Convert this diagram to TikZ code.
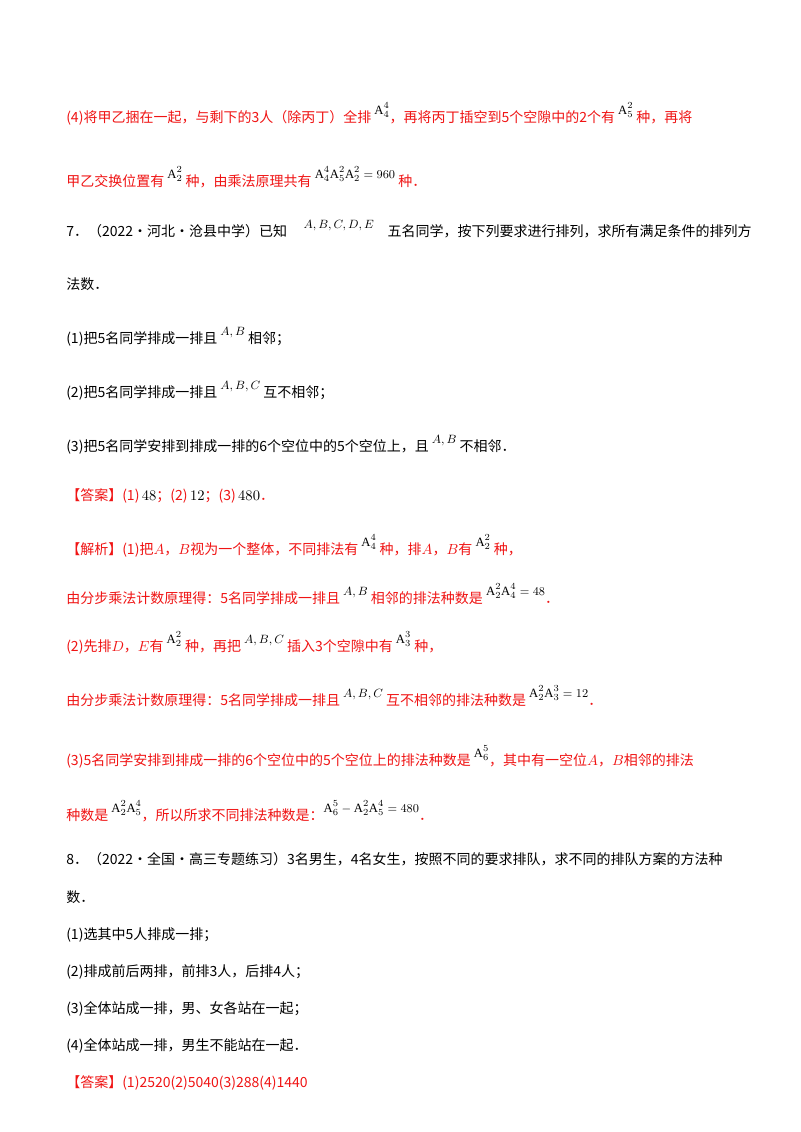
\documentclass[tikz,border=0pt]{standalone}
\usepackage{fontspec}
\setmainfont{Noto Sans CJK SC}
\setmathrm{Liberation Serif}
\usepackage{xcolor}
\definecolor{ansred}{RGB}{240,20,20}
\newcommand{\mth}[1]{\raisebox{6pt}{\color{black}\fontsize{9.5pt}{11pt}\selectfont$#1$}}
\newcommand{\Aa}[2]{\mathrm{A}_{#1}^{#2}}
\begin{document}
\begin{tikzpicture}[x=0.75pt,y=-0.75pt,
  ln/.style={anchor=base west,inner sep=0pt,font=\fontsize{10.5pt}{12pt}\selectfont},
  rd/.style={ln,text=ansred}]
\useasboundingbox (0,0) rectangle (800,1132);
\fill[white] (0,0) rectangle (800,1132);
\node[rd] (l1) at (66,122) {(4)将甲乙捆在一起，与剩下的3人（除丙丁）全排 \mth{\Aa44}，再将丙丁插空到5个空隙中的2个有 \mth{\Aa52} 种，再将};
\node[rd] (l2) at (66,186) {甲乙交换位置有 \mth{\Aa22} 种，由乘法原理共有 \mth{\Aa44\Aa52\Aa22=960} 种．};
\node[ln] (l3) at (66,236) {7．（2022·河北·沧县中学）已知 \hspace{10pt}\mth{A,B,C,D,E}\hspace{8pt} 五名同学，按下列要求进行排列，求所有满足条件的排列方};
\node[ln] (l4) at (66,289) {法数．};
\node[ln] (l5) at (66,343) {(1)把5名同学排成一排且 \mth{A,B} 相邻；};
\node[ln] (l6) at (66,397) {(2)把5名同学排成一排且 \mth{A,B,C} 互不相邻；};
\node[ln] (l7) at (66,451) {(3)把5名同学安排到排成一排的6个空位中的5个空位上，且 \mth{A,B} 不相邻．};
\node[rd] (l8) at (66,500) {【答案】(1)\,{\color{black}$48$}；(2)\,{\color{black}$12$}；(3)\,{\color{black}$480$}．};
\node[rd] (l9) at (66,554) {【解析】(1)把$A$，$B$视为一个整体，不同排法有 \mth{\Aa44} 种，排$A$，$B$有 \mth{\Aa22} 种，};
\node[rd] (l10) at (66,603) {由分步乘法计数原理得：5名同学排成一排且 \mth{A,B} 相邻的排法种数是 \mth{\Aa22\Aa44=48}．};
\node[rd] (l12) at (66,651) {(2)先排$D$，$E$有 \mth{\Aa22} 种，再把 \mth{A,B,C} 插入3个空隙中有 \mth{\Aa33} 种，};
\node[rd] (l13) at (66,705) {由分步乘法计数原理得：5名同学排成一排且 \mth{A,B,C} 互不相邻的排法种数是 \mth{\Aa22\Aa33=12}．};
\node[rd] (l14) at (66,765) {(3)5名同学安排到排成一排的6个空位中的5个空位上的排法种数是 \mth{\Aa65}，其中有一空位$A$，$B$相邻的排法};
\node[rd] (l15) at (66,820) {种数是 \mth{\Aa22\Aa54}，所以所求不同排法种数是：\mth{\Aa65-\Aa22\Aa54=480}．};
\node[ln] (l16) at (66,864) {8．（2022·全国·高三专题练习）3名男生，4名女生，按照不同的要求排队，求不同的排队方案的方法种};
\node[ln] (l17) at (66,902) {数．};
\node[ln] (l18) at (66,939) {(1)选其中5人排成一排；};
\node[ln] (l19) at (66,976) {(2)排成前后两排，前排3人，后排4人；};
\node[ln] (l20) at (66,1013) {(3)全体站成一排，男、女各站在一起；};
\node[ln] (l21) at (66,1050) {(4)全体站成一排，男生不能站在一起．};
\node[rd] (l22) at (66,1087) {【答案】(1)2520(2)5040(3)288(4)1440};
\end{tikzpicture}
\end{document}
